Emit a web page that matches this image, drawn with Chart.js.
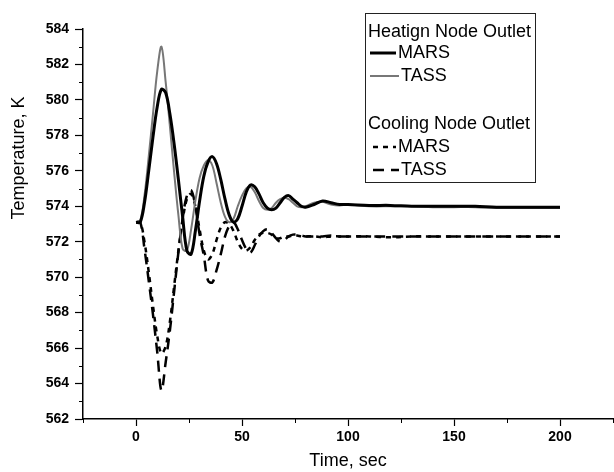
<!DOCTYPE html>
<html>
<head>
<meta charset="utf-8">
<script src="https://cdn.jsdelivr.net/npm/chart.js@4.4.1/dist/chart.umd.min.js"></script>
<style>
  html, body { margin: 0; padding: 0; background: #ffffff; }
  #wrap { width: 614px; height: 472px; position: relative; }
</style>
</head>
<body>
<div id="wrap"><canvas id="c" width="614" height="472"></canvas></div>
<script>
// ---- data ----
const time = [0,2,4,6,8,10,12,14,16,18,20,22,24,26,28,30,32,34,36,38,40,42,44,46,48,50,52,54,56,58,60,62,64,66,68,70,72,74,76,78,80,84,88,92,96,100,110,120,130,140,150,160,170,180,190,200];

const heatMARS = [573.1,573.1,574.2,576.0,577.9,579.6,580.6,580.4,579.2,577.5,575.5,573.4,571.5,571.3,572.6,574.3,575.7,576.5,576.8,576.4,575.5,574.4,573.5,573.1,573.3,574.0,574.8,575.2,575.1,574.7,574.2,573.9,573.8,573.9,574.2,574.5,574.6,574.4,574.2,574.0,573.95,574.1,574.3,574.2,574.1,574.1,574.05,574.05,574.0,574.0,574.0,574.0,573.95,573.95,573.95,573.95];

const heatTASS = [573.1,573.2,574.6,576.8,579.2,581.6,583.0,581.0,578.5,575.9,573.5,571.6,571.5,572.7,574.3,575.6,576.3,576.6,576.3,575.3,574.2,573.4,573.1,573.3,574.0,574.6,575.0,575.1,574.8,574.3,573.9,573.8,573.9,574.2,574.4,574.5,574.4,574.2,574.0,573.95,574.0,574.2,574.25,574.1,574.05,574.1,574.0,574.0,574.0,573.95,573.95,573.95,573.9,573.9,573.9,573.9];

const coolMARS = [573.1,573.1,572.0,570.3,568.4,566.7,565.7,566.1,567.5,569.5,571.5,573.2,574.4,574.7,574.0,572.7,571.5,571.0,571.3,572.1,572.8,573.1,573.0,572.6,572.0,571.6,571.5,571.7,572.1,572.4,572.5,572.5,572.4,572.2,572.2,572.3,572.3,572.35,572.35,572.3,572.3,572.3,572.25,572.3,572.3,572.3,572.3,572.25,572.3,572.3,572.3,572.3,572.3,572.3,572.3,572.3];

const coolTASS = [573.1,573.1,571.6,569.8,567.9,565.8,563.6,565.2,567.0,569.2,571.4,573.3,574.6,574.9,574.0,572.4,571.2,569.8,569.7,570.4,571.3,572.3,572.9,573.1,572.7,572.1,571.6,571.4,571.8,572.3,572.6,572.7,572.5,572.2,572.0,572.1,572.3,572.4,572.4,572.35,572.3,572.3,572.3,572.35,572.3,572.3,572.3,572.3,572.3,572.3,572.3,572.3,572.3,572.3,572.3,572.3];

const xTickValues = [0, 50, 100, 150, 200];
const xMinorValues = [-25, 25, 75, 125, 175, 225];
const yTickValues = [562,564,566,568,570,572,574,576,578,580,582,584];
const seriesNames = ['MARS', 'TASS', 'MARS', 'TASS'];
const groupTitles = ['Heatign Node Outlet', 'Cooling Node Outlet'];
const xTitle = 'Time, sec';
const yTitle = 'Temperature, K';

// ---- chart ----
const FONT = "'Liberation Sans', Arial, Helvetica, sans-serif";
const pts = arr => time.map((t, i) => ({ x: t, y: arr[i] }));

const minorTicks = {
  id: 'minorTicks',
  afterDraw(chart) {
    const ctx = chart.ctx, xs = chart.scales.x, ys = chart.scales.y;
    ctx.save();
    ctx.strokeStyle = '#000';
    ctx.lineWidth = 1;
    ctx.beginPath();
    for (let v = 563; v < 584; v += 2) {
      const py = Math.round(ys.getPixelForValue(v)) + 0.5;
      ctx.moveTo(xs.left - 4, py); ctx.lineTo(xs.left, py);
    }
    xMinorValues.forEach(v => {
      const px = Math.round(xs.getPixelForValue(v)) + 0.5;
      ctx.moveTo(px, ys.bottom); ctx.lineTo(px, ys.bottom + 4);
    });
    ctx.stroke();
    // y axis title (placed as in the reference)
    ctx.fillStyle = '#000';
    ctx.font = '18px ' + FONT;
    ctx.textAlign = 'center';
    ctx.textBaseline = 'middle';
    ctx.translate(19, 158);
    ctx.rotate(-Math.PI / 2);
    ctx.fillText(yTitle, 0, 0);
    ctx.restore();
  }
};

const groupLegend = {
  id: 'groupLegend',
  afterDraw(chart) {
    const ctx = chart.ctx, ds = chart.data.datasets;
    ctx.save();
    ctx.fillStyle = '#fff';
    ctx.fillRect(365, 13, 170, 169);
    ctx.strokeStyle = '#222';
    ctx.lineWidth = 1;
    ctx.strokeRect(365.5, 13.5, 170, 169);
    ctx.fillStyle = '#000';
    ctx.font = '18px ' + FONT;
    ctx.textAlign = 'left';
    ctx.textBaseline = 'middle';
    ctx.fillText(groupTitles[0], 368, 32);
    ctx.fillText(groupTitles[1], 368, 124);
    const rows = [
      { i: 0, y: 53, x0: 370, x1: 396, tx: 398 },
      { i: 1, y: 76, x0: 370, x1: 399, tx: 401 },
      { i: 2, y: 147, x0: 373, x1: 396, tx: 398 },
      { i: 3, y: 170, x0: 373, x1: 399, tx: 401 }
    ];
    rows.forEach(r => {
      const d = ds[r.i];
      ctx.save();
      ctx.strokeStyle = d.borderColor;
      ctx.lineWidth = d.borderWidth;
      ctx.setLineDash(d.borderDash || []);
      ctx.beginPath();
      ctx.moveTo(r.x0, r.y); ctx.lineTo(r.x1, r.y);
      ctx.stroke();
      ctx.restore();
      ctx.fillText(seriesNames[r.i], r.tx, r.y);
    });
    ctx.restore();
  }
};

new Chart(document.getElementById('c'), {
  type: 'line',
  data: {
    datasets: [
      { label: 'Heating MARS', data: pts(heatMARS), borderColor: '#000', borderWidth: 3, borderDash: [] },
      { label: 'Heating TASS', data: pts(heatTASS), borderColor: '#777', borderWidth: 2, borderDash: [] },
      { label: 'Cooling MARS', data: pts(coolMARS), borderColor: '#000', borderWidth: 2.5, borderDash: [5, 5] },
      { label: 'Cooling TASS', data: pts(coolTASS), borderColor: '#000', borderWidth: 2.5, borderDash: [11, 7] }
    ]
  },
  options: {
    responsive: false,
    animation: false,
    events: [],
    elements: { point: { radius: 0 }, line: { tension: 0.35, fill: false, borderJoinStyle: 'round' } },
    layout: { padding: { top: 29, right: 1, bottom: 0, left: 0 } },
    plugins: { legend: { display: false }, tooltip: { enabled: false } },
    scales: {
      x: {
        type: 'linear', min: -25, max: 225,
        afterBuildTicks: s => { s.ticks = xTickValues.map(v => ({ value: v })); },
        afterFit: s => { s.height = 53; },
        grid: { drawOnChartArea: false, drawTicks: true, tickLength: 7, tickColor: '#000', tickWidth: 1.2 },
        border: { display: true, color: '#000', width: 1.5 },
        ticks: { color: '#000', font: { family: FONT, size: 14, weight: 'bold' }, padding: 3, maxRotation: 0 },
        title: { display: true, text: xTitle, color: '#000', font: { family: FONT, size: 18 }, padding: { top: 1, bottom: 0 } }
      },
      y: {
        type: 'linear', min: 562, max: 584,
        afterBuildTicks: s => { s.ticks = yTickValues.map(v => ({ value: v })); },
        afterFit: s => { s.width = 83; },
        grid: { drawOnChartArea: false, drawTicks: true, tickLength: 8, tickColor: '#000', tickWidth: 1.2 },
        border: { display: true, color: '#000', width: 1.5 },
        ticks: { color: '#000', font: { family: FONT, size: 14, weight: 'bold' }, padding: 6 },
        title: { display: false }
      }
    }
  },
  plugins: [minorTicks, groupLegend]
});
</script>
</body>
</html>
